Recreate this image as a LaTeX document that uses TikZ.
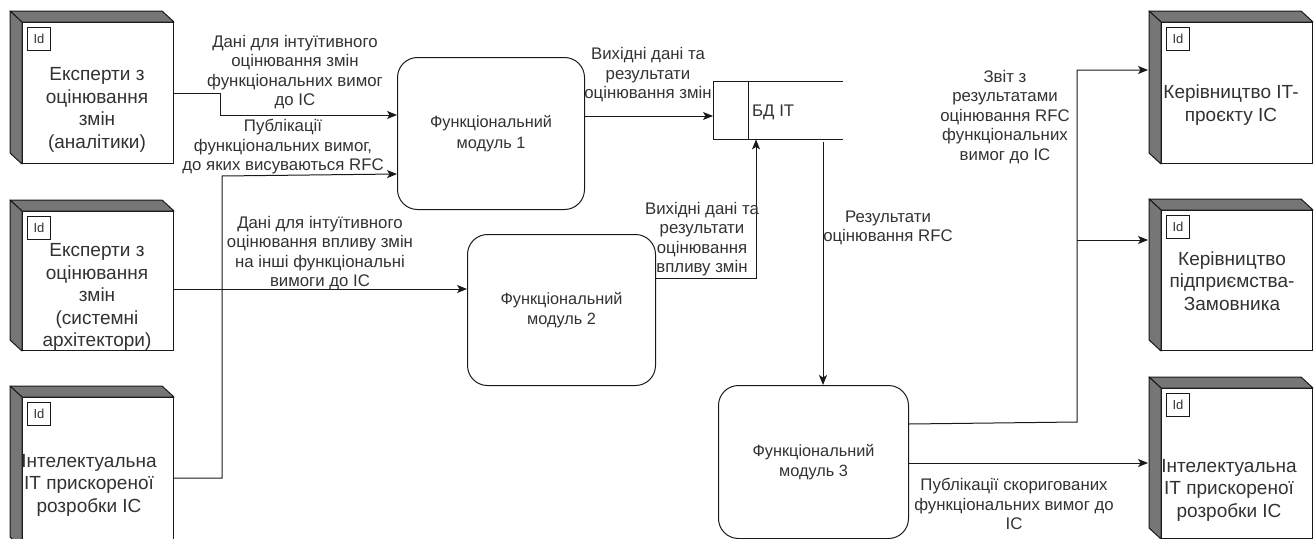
\documentclass[tikz,border=0pt]{standalone}
\usepackage{fontspec}
\setmainfont{Liberation Sans}
\usetikzlibrary{arrows.meta}

\definecolor{bevel}{RGB}{118,118,118}
\definecolor{ink}{RGB}{50,50,50}
\definecolor{wire}{RGB}{25,25,25}

\tikzset{
  front/.style={draw=wire, line width=1pt, fill=white, anchor=north west,
    inner sep=0pt, minimum width=151pt},
  sideface/.style={fill=bevel, draw=wire, line width=1pt, line join=round},
  idbox/.style={draw=wire, line width=0.9pt, anchor=north west, minimum width=23pt,
    minimum height=23pt, inner sep=0pt, text=ink,
    font=\fontsize{13}{13}\selectfont},
  enttext/.style={text=ink, align=center, inner sep=0pt,
    font=\fontsize{19}{22.5}\selectfont},
  proc/.style={draw=wire, line width=1pt, rounded corners=20pt, anchor=north west,
    inner sep=0pt, text=ink, align=center,
    font=\fontsize{16.3}{20.5}\selectfont},
  lbl/.style={text=ink, align=center, inner sep=0pt,
    font=\fontsize{16.8}{19.5}\selectfont},
  link/.style={draw=wire, line width=1pt},
  flow/.style={draw=wire, line width=1pt,
    -{Stealth[length=10pt,width=8pt,inset=2.5pt]}},
}

% external entity: front face, grey top and left faces, "Id" tag
% #1 name, #2 x, #3 y, #4 height of the front face
\newcommand\extentity[4]{%
  \node[front, minimum height=#4pt] (#1) at (#2,#3) {};
  \path[sideface] (#1.north west) -- ++(-12,-11)
    -- ([shift={(-12,-11)}]#1.north east) -- (#1.north east) -- cycle;
  \path[sideface] (#1.north west) -- ++(-12,-11)
    -- ([shift={(-12,-11)}]#1.south west) -- (#1.south west) -- cycle;
  \node[idbox] (#1-id) at ([shift={(5,5)}]#1.north west) {Id};
}

\begin{document}
\begin{tikzpicture}[x=1pt, y=-1pt]
\useasboundingbox (0,0) rectangle (1316,538);
\clip (0,0) rectangle (1316,538);

% ---- external entities ----
\extentity{ea}{22}{22}{141}
\node[enttext] (ea-t) at (97,110) {Експерти з\\оцінювання\\змін\\(аналітики)};
\extentity{eb}{22}{211}{139}
\node[enttext] (eb-t) at (97,297) {Експерти з\\оцінювання\\змін\\(системні\\архітектори)};
\extentity{ec}{22}{397}{150}
\node[enttext] (ec-t) at (89,485) {Інтелектуальна\\IT прискореної\\розробки IC};

\extentity{ra}{1161}{22}{141}
\node[enttext] (ra-t) at (1231,105) {Керівництво IT-\\проєкту IC};
\extentity{rb}{1161}{210}{140}
\node[enttext] (rb-t) at (1232,281) {Керівництво\\підприємства-\\Замовника};
\extentity{rc}{1161}{388}{150}
\node[enttext] (rc-t) at (1229,490) {Інтелектуальна\\IT прискореної\\розробки IC};

% ---- functional modules ----
\node[proc, minimum width=187pt, minimum height=152pt] (fa) at (397,57)
  {Функціональний\\модуль 1};
\node[proc, minimum width=188pt, minimum height=151pt] (fb) at (467,234)
  {Функціональний\\модуль 2};
\node[proc, minimum width=190pt, minimum height=153pt] (fc) at (718,385)
  {Функціональний\\модуль 3};

% ---- data store ----
\node[anchor=north west, minimum width=130pt, minimum height=58pt,
  inner sep=0pt] (db) at (713,81) {};
\draw[link] (db.north east) -- (db.north west) -- (db.south west) -- (db.south east);
\draw[link] ([xshift=35pt]db.north west) -- ([xshift=35pt]db.south west);
\node[lbl, anchor=west] (db-t) at (752,112) {БД IT};

% ---- flows ----
\draw[flow] (ea.east |- 0,93) -- (220,93) -- (220,115) -- (fa.west |- 0,115);
\draw[flow] (ec.east |- 0,478) -- (222,478) -- (222,176) -- (fa.west |- 0,174);
\draw[flow] (eb.east |- 0,289) -- (fb.west |- 0,289);
\draw[flow] (fa.east |- 0,116) -- (db.west |- 0,116);
\draw[flow] (fb.east |- 0,278) -| (db.south -| 756,0);
\draw[flow] (823,142) -- (fc.north -| 823,0);
\draw[flow] (fc.east |- 0,424) -- (1077,422) -- (1077,70)
  -- ([xshift=-13pt]ra.west |- 0,70);
\draw[flow] (1077,240) -- ([xshift=-13pt]rb.west |- 0,240);
\draw[flow] (fc.east |- 0,463) -- ([xshift=-13pt]rc.west |- 0,463);

% ---- flow labels ----
\node[lbl] (la) at (295,72) {Дані для інтуїтивного\\оцінювання змін\\функціональних вимог\\до IC};
\node[lbl] (lb) at (283,147) {Публікації\\функціональних вимог,\\до яких висуваються RFC};
\node[lbl] (lc) at (320,253) {Дані для інтуїтивного\\оцінювання впливу змін\\на інші функціональні\\вимоги до IC};
\node[lbl] (ld) at (648,75) {Вихідні дані та\\результати\\оцінювання змін};
\node[lbl] (le) at (702,239) {Вихідні дані та\\результати\\оцінювання\\впливу змін};
\node[lbl] (lf) at (888,228) {Результати\\оцінювання RFC};
\node[lbl] (lg) at (1005,117) {Звіт з\\результатами\\оцінювання RFC\\функціональних\\вимог до IC};
\node[lbl] (lh) at (1014,504) {Публікації скоригованих\\функціональних вимог до\\IC};
\end{tikzpicture}
\end{document}
